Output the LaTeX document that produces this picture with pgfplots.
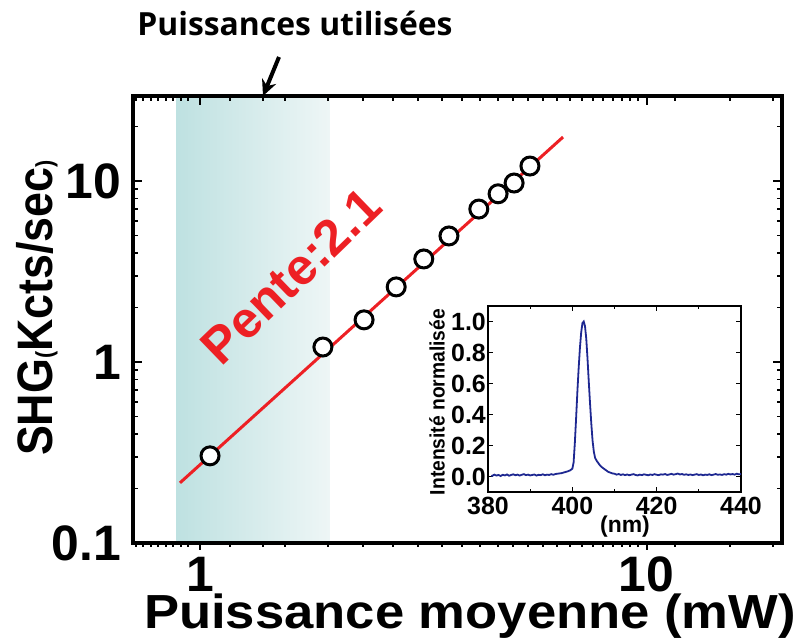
\documentclass[border=0pt]{standalone}
\usepackage{fontspec}
\setmainfont{Liberation Sans}
\newfontfamily\titlefont{Open Sans}
\usepackage{pgfplots}
\pgfplotsset{compat=1.18}
\usetikzlibrary{arrows.meta}
\definecolor{shgred}{RGB}{237,32,36}
\definecolor{tealA}{RGB}{190,225,225}
\definecolor{tealB}{RGB}{238,246,246}
\definecolor{specblue}{RGB}{30,40,145}
\pgfplotstableread{
x y
380.8 0.008
381 0.004
381.5 0.012
382 0.006
382.5 0.010
383 0.003
383.5 0.011
384 0.007
384.5 0.013
385 0.005
385.5 0.010
386 0.014
386.5 0.008
387 0.012
387.5 0.006
388 0.011
388.5 0.015
389 0.009
389.5 0.012
390 0.007
390.5 0.010
391 0.013
391.5 0.006
392 0.011
392.5 0.009
393 0.014
393.5 0.008
394 0.012
394.5 0.010
395 0.015
395.5 0.011
396 0.016
396.5 0.018
397 0.020
397.5 0.022
398 0.026
398.5 0.030
399 0.034
399.5 0.040
400 0.05
400.3 0.09
400.6 0.22
400.9 0.38
401.2 0.55
401.5 0.70
401.8 0.83
402.1 0.93
402.4 0.99
402.7 1.00
403.0 0.97
403.3 0.89
403.6 0.76
403.9 0.61
404.2 0.47
404.5 0.34
404.8 0.23
405.1 0.16
405.4 0.12
405.8 0.10
406.2 0.085
406.6 0.07
407 0.06
407.5 0.05
408 0.04
408.5 0.03
409 0.025
409.5 0.02
410 0.018
410.5 0.012
411 0.016
411.5 0.010
412 0.014
412.5 0.009
413 0.013
413.5 0.008
414 0.012
414.5 0.015
415 0.010
415.5 0.007
416 0.012
416.5 0.009
417 0.014
417.5 0.011
418 0.008
418.5 0.013
419 0.010
419.5 0.015
420 0.011
420.5 0.009
421 0.014
421.5 0.012
422 0.016
422.5 0.010
423 0.013
423.5 0.017
424 0.012
424.5 0.015
425 0.019
425.5 0.013
426 0.016
426.5 0.011
427 0.014
427.5 0.010
428 0.013
428.5 0.009
429 0.012
429.5 0.015
430 0.010
430.5 0.013
431 0.008
431.5 0.012
432 0.010
432.5 0.014
433 0.009
433.5 0.012
434 0.016
434.5 0.011
435 0.013
435.5 0.010
436 0.015
436.5 0.012
437 0.017
437.5 0.013
438 0.016
438.5 0.012
439 0.018
439.5 0.014
440 0.016
}\spectrum
\pgfplotstableread{
x y
1.053 0.303
1.885 1.21
2.33 1.71
2.75 2.6
3.17 3.71
3.61 4.97
4.21 7.0
4.65 8.5
5.05 9.75
5.48 12.1
}\shgdata
\begin{document}
\begin{tikzpicture}[x=1bp,y=1bp]
\path[use as bounding box] (0,0) rectangle (803,642);
% main axis: ticks inside (top, left, right)
\begin{axis}[
  at={(133bp,99bp)}, anchor=south west, scale only axis,
  width=649bp, height=447bp,
  xmode=log, ymode=log,
  xmin=0.708, xmax=20.1, ymin=0.1, ymax=29.5,
  axis on top,
  axis line style={line width=3.2bp},
  every tick/.style={black, line width=1.8bp},
  major tick length=9bp, minor tick length=5bp,
  tick align=inside,
  xtick={1,10}, xticklabels={1,10},
  minor xtick={0.719,0.746,0.777,0.805,0.839,0.870,0.907,0.940,1.167,1.384,1.550,1.934,2.317,2.705,3.076,3.482,3.859,4.235,4.647,5.020,5.424,5.861,6.299,6.734,7.165,7.583,7.984,8.406,8.806,9.177,9.561,11.57,15.37,19.17},
  ytick={0.1,1,10}, yticklabels={0.1,1,10},
  minor ytick={0.2,0.3,0.4,0.5,0.6,0.7,0.8,0.9,2,3,4,5,6,7,8,9,20},
  xtick pos=upper, xticklabel pos=lower,
  ytick pos=both, yticklabel pos=left,
  ticklabel style={font=\fontsize{50}{50}\selectfont\bfseries, inner sep=0pt},
  yticklabel style={xshift=-12bp},
  xticklabel style={yshift=-14bp},
]
\addplot[draw=none, left color=tealA, right color=tealB] coordinates {(0.884,0.1) (1.954,0.1) (1.954,29.5) (0.884,29.5)};
\addplot[shgred, line width=3bp] coordinates {(0.902,0.215) (6.50,17.5)};
\addplot[only marks, mark=*, mark size=9bp, mark options={fill=white, draw=black, line width=3bp}] table[x=x,y=y] {\shgdata};
\end{axis}
% bottom ticks outside
\begin{axis}[
  at={(133bp,99bp)}, anchor=south west, scale only axis,
  width=649bp, height=447bp,
  xmode=log, ymode=log,
  xmin=0.708, xmax=20.1, ymin=0.1, ymax=29.5,
  axis line style={draw=none},
  every tick/.style={black, line width=1.8bp},
  major tick length=7bp, minor tick length=4bp,
  tick align=outside,
  xtick={1,10}, xticklabels={},
  minor xtick={0.719,0.746,0.777,0.805,0.839,0.870,0.907,0.940,1.167,1.384,1.550,1.934,2.317,2.705,3.076,3.482,3.859,4.235,4.647,5.020,5.424,5.861,6.299,6.734,7.165,7.583,7.984,8.406,8.806,9.177,9.561,11.57,15.37,19.17},
  ytick=\empty, xtick pos=lower,
]
\addplot[draw=none] coordinates {(1,1)};
\end{axis}
% labels
\node[rotate=90, font=\fontsize{50}{50}\selectfont\bfseries] at (37,334) {\scalebox{0.9}[1]{SHG{\fontsize{24}{24}\selectfont(}Kcts/sec{\fontsize{24}{24}\selectfont)}}};
\node[anchor=base, font=\fontsize{48}{48}\selectfont\bfseries] at (470,13) {\scalebox{1.1}[1]{Puissance moyenne (mW)}};
\node[font=\titlefont\fontsize{32}{32}\selectfont\bfseries] at (295,619) {Puissances utilisées};
\draw[line width=4bp, -{Stealth[length=16bp,width=15bp]}] (279,585) -- (263,546);
\node[rotate=44, text=shgred, font=\fontsize{51}{51}\selectfont\bfseries] at (291,366) {Pente:2.1};
% inset
\begin{axis}[
  at={(488bp,150bp)}, anchor=south west, scale only axis,
  width=253bp, height=186bp,
  xmin=380, xmax=440, ymin=-0.1, ymax=1.1,
  axis line style={line width=1.2bp},
  every tick/.style={black, line width=0.9bp},
  major tick length=5bp, minor tick length=3bp,
  tick align=inside,
  xtick={380,400,420,440}, minor xtick={390,410,430},
  ytick={0,0.2,0.4,0.6,0.8,1.0},
  yticklabels={0.0,0.2,0.4,0.6,0.8,1.0},
  xticklabels={380,400,420,440},
  ticklabel style={font=\fontsize{25}{25}\selectfont\bfseries, inner sep=0pt},
  yticklabel style={xshift=-2bp},
  xticklabel style={yshift=-5bp},
]
\addplot[specblue, line width=1.8bp] table[x=x,y=y] {\spectrum};
\end{axis}
\node[rotate=90, font=\fontsize{21}{21}\selectfont\bfseries] at (437,240) {\scalebox{0.92}[1]{Intensité normalisée}};
\node[font=\fontsize{23}{23}\selectfont\bfseries] at (625,115) {(nm)};
\end{tikzpicture}
\end{document}
